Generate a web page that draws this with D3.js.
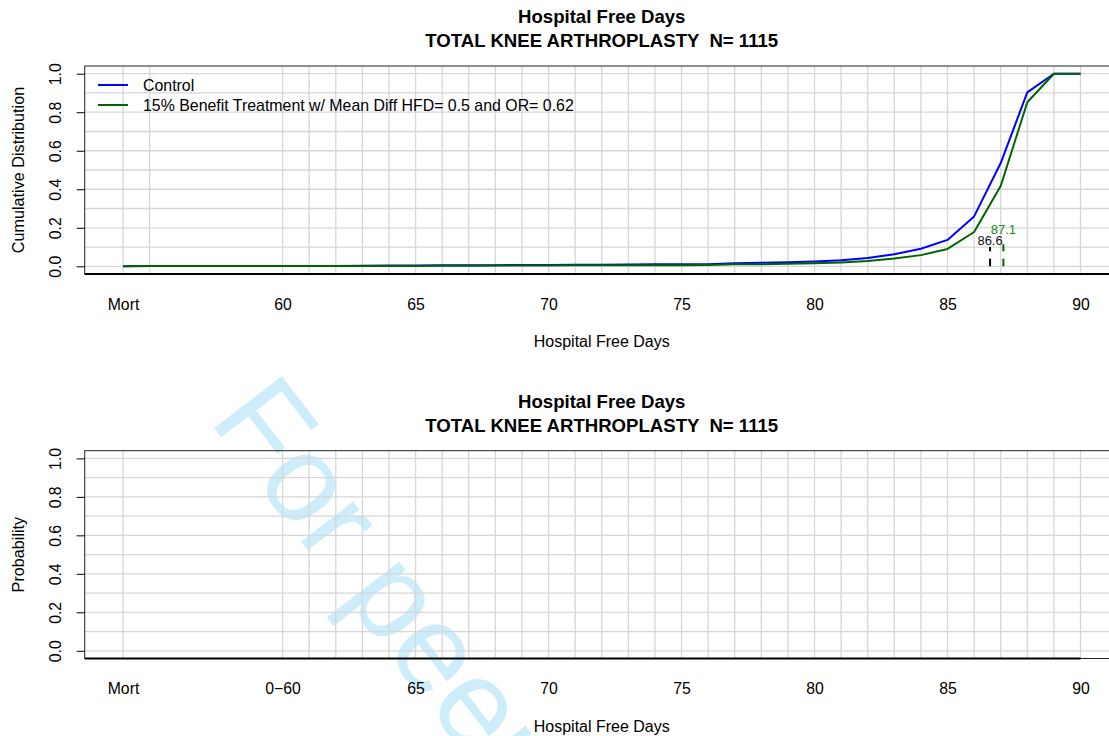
<!DOCTYPE html>
<html>
<head>
<meta charset="utf-8">
<script src="https://cdn.jsdelivr.net/npm/d3@7"></script>
<style>
  html, body { margin: 0; padding: 0; background: #fff; }
  svg { display: block; font-family: "Liberation Sans", Arial, Helvetica, sans-serif; }
</style>
</head>
<body>
<svg id="chart" width="1109" height="736"></svg>
<script>
// Hospital free days (Mort plotted at 54)
const hfd = [54, 55, 60, 61, 62, 63, 64, 65, 66, 67, 68, 69, 70, 71, 72, 73, 74, 75,
             76, 77, 78, 79, 80, 81, 82, 83, 84, 85, 86, 87, 88, 89, 90];

// Cumulative distribution, control arm
const controlCdf = [0.000, 0.001, 0.001, 0.002, 0.002, 0.003, 0.004, 0.004, 0.005, 0.005, 0.006,
                    0.007, 0.007, 0.008, 0.008, 0.009, 0.010, 0.010, 0.011, 0.016, 0.018, 0.021,
                    0.025, 0.032, 0.043, 0.063, 0.091, 0.137, 0.259, 0.536, 0.903, 1.000, 1.000];

// Cumulative distribution, 15% benefit treatment arm
const treatCdf = [0.000, 0.001, 0.001, 0.001, 0.001, 0.002, 0.002, 0.002, 0.003, 0.003, 0.004,
                  0.004, 0.004, 0.005, 0.005, 0.006, 0.006, 0.006, 0.007, 0.010, 0.011, 0.013,
                  0.016, 0.020, 0.027, 0.040, 0.058, 0.090, 0.178, 0.417, 0.852, 1.000, 1.000];

// Mean HFD markers
const meanLabels = ["86.6", "87.1"];
const meanValues = [86.6, 87.1];
const meanHeights = [0.10, 0.115];
const meanLabelY = [0.108, 0.167];

// Axis ticks
const xTickValues = [54, 60, 65, 70, 75, 80, 85, 90];
const xTickLabelsTop = ["Mort", "60", "65", "70", "75", "80", "85", "90"];
const xTickLabelsBottom = ["Mort", "0\u221260", "65", "70", "75", "80", "85", "90"];
const yTickValues = [0, 0.2, 0.4, 0.6, 0.8, 1.0];
const yGridValues = [0, 0.1, 0.2, 0.3, 0.4, 0.5, 0.6, 0.7, 0.8, 0.9, 1.0];
const xGridTop = [54, 55, 60, 61, 62, 63, 64, 65, 66, 67, 68, 69, 70, 71, 72, 73, 74, 75,
                  76, 77, 78, 79, 80, 81, 82, 83, 84, 85, 86, 87, 88, 89, 90];
const xGridBottom = [54, 60, 61, 62, 63, 64, 65, 66, 67, 68, 69, 70, 71, 72, 73, 74, 75,
                     76, 77, 78, 79, 80, 81, 82, 83, 84, 85, 86, 87, 88, 89, 90];

const legendLabels = ["Control", "15% Benefit Treatment w/ Mean Diff HFD= 0.5 and OR= 0.62"];
const seriesColors = ["#0000ff", "#006400"];

const svg = d3.select("#chart");

// Watermark behind the panels
svg.append("text")
  .attr("transform", "translate(208,420) rotate(52.5)")
  .attr("font-size", 124)
  .attr("fill", "#cdedfb")
  .text("For peer review");

const x = d3.scaleLinear().domain([52.56, 91.44]).range([84.7, 1118.8]);

function panel(opts) {
  const y = d3.scaleLinear().domain([-0.04, 1.04]).range([opts.bottom, opts.top]);
  const g = svg.append("g");

  // grid
  g.append("g").selectAll("line").data(opts.xGrid).join("line")
    .attr("x1", d => x(d)).attr("x2", d => x(d))
    .attr("y1", opts.top).attr("y2", opts.bottom)
    .attr("stroke", "#d6d6d6").attr("stroke-width", 1.3);
  g.append("g").selectAll("line").data(yGridValues).join("line")
    .attr("x1", x.range()[0]).attr("x2", x.range()[1])
    .attr("y1", d => y(d)).attr("y2", d => y(d))
    .attr("stroke", "#d6d6d6").attr("stroke-width", 1.3);

  // box
  g.append("rect")
    .attr("x", x.range()[0]).attr("y", opts.top)
    .attr("width", x.range()[1] - x.range()[0]).attr("height", opts.bottom - opts.top)
    .attr("fill", "none").attr("stroke", "#222").attr("stroke-width", 1);

  // y axis
  const yAxis = d3.axisLeft(y).tickValues(yTickValues).tickSize(8).tickFormat(d3.format(".1f"));
  const ya = g.append("g").attr("transform", `translate(${x.range()[0]},0)`).call(yAxis);
  ya.select(".domain").remove();
  ya.selectAll(".tick line").attr("stroke", "#000");
  ya.selectAll(".tick text")
    .attr("font-size", 15.8).attr("fill", "#000")
    .attr("font-family", "Liberation Sans, Arial, sans-serif")
    .attr("text-anchor", "middle")
    .attr("x", 0).attr("dy", 0)
    .attr("transform", "translate(-23.5,0) rotate(-90)");

  // x axis (labels only, line along the bottom)
  const xAxis = d3.axisBottom(x).tickValues(xTickValues).tickSize(0)
    .tickFormat((d, i) => opts.xLabels[i]);
  const xa = g.append("g").attr("transform", `translate(0,${opts.bottom})`).call(xAxis);
  xa.select(".domain").remove();
  xa.selectAll(".tick text")
    .attr("font-size", 15.8).attr("fill", "#000")
    .attr("font-family", "Liberation Sans, Arial, sans-serif")
    .attr("y", 0).attr("dy", 0)
    .attr("transform", "translate(0,35.5)");
  g.append("line")
    .attr("x1", x.range()[0]).attr("x2", opts.axisLineEnd)
    .attr("y1", opts.bottom).attr("y2", opts.bottom)
    .attr("stroke", "#000").attr("stroke-width", 2);

  // titles
  const cx = (x.range()[0] + x.range()[1]) / 2;
  g.append("text").attr("x", cx).attr("y", opts.titleY)
    .attr("text-anchor", "middle").attr("font-weight", "bold").attr("font-size", 18.6)
    .text("Hospital Free Days");
  g.append("text").attr("x", cx).attr("y", opts.titleY + 24)
    .attr("text-anchor", "middle").attr("font-weight", "bold").attr("font-size", 18.6)
    .attr("xml:space", "preserve")
    .text("TOTAL KNEE ARTHROPLASTY  N= 1115");
  g.append("text").attr("x", cx).attr("y", opts.bottom + 73)
    .attr("text-anchor", "middle").attr("font-size", 16)
    .text("Hospital Free Days");
  g.append("text")
    .attr("transform", `translate(24,${(opts.top + opts.bottom) / 2}) rotate(-90)`)
    .attr("text-anchor", "middle").attr("font-size", 16.2)
    .text(opts.yTitle);

  return { g, y };
}

// Top panel: cumulative distributions
const cdfPanel = panel({ top: 66, bottom: 274, xGrid: xGridTop, xLabels: xTickLabelsTop,
                    titleY: 22.5, yTitle: "Cumulative Distribution", axisLineEnd: 1109 });

const line = d3.line().x((d, i) => x(hfd[i])).y(d => cdfPanel.y(d));
[controlCdf, treatCdf].forEach((s, k) => {
  cdfPanel.g.append("path").datum(s)
    .attr("d", line).attr("fill", "none")
    .attr("stroke", seriesColors[k]).attr("stroke-width", 2)
    .attr("stroke-linejoin", "round");
});

// mean markers
const markColors = ["#000", "#006400"];
const labelColors = ["#111", "#228b22"];
meanValues.forEach((v, i) => {
  cdfPanel.g.append("line")
    .attr("x1", x(v)).attr("x2", x(v))
    .attr("y1", cdfPanel.y(0)).attr("y2", cdfPanel.y(meanHeights[i]))
    .attr("stroke", markColors[i]).attr("stroke-width", 2)
    .attr("stroke-dasharray", "7.5,7.5");
  cdfPanel.g.append("text")
    .attr("x", x(v)).attr("y", cdfPanel.y(meanLabelY[i]))
    .attr("text-anchor", "middle").attr("font-size", 13)
    .attr("fill", labelColors[i])
    .text(meanLabels[i]);
});

// legend
legendLabels.forEach((lab, i) => {
  const ly = 85 + i * 20;
  cdfPanel.g.append("line").attr("x1", 98).attr("x2", 128).attr("y1", ly).attr("y2", ly)
    .attr("stroke", seriesColors[i]).attr("stroke-width", 2);
  cdfPanel.g.append("text").attr("x", 143).attr("y", ly + 5.5)
    .attr("font-size", 15.9).text(lab);
});

// Bottom panel: probability (empty)
panel({ top: 450.7, bottom: 658.5, xGrid: xGridBottom, xLabels: xTickLabelsBottom,
        titleY: 407.5, yTitle: "Probability", axisLineEnd: x(90) });
</script>
</body>
</html>
